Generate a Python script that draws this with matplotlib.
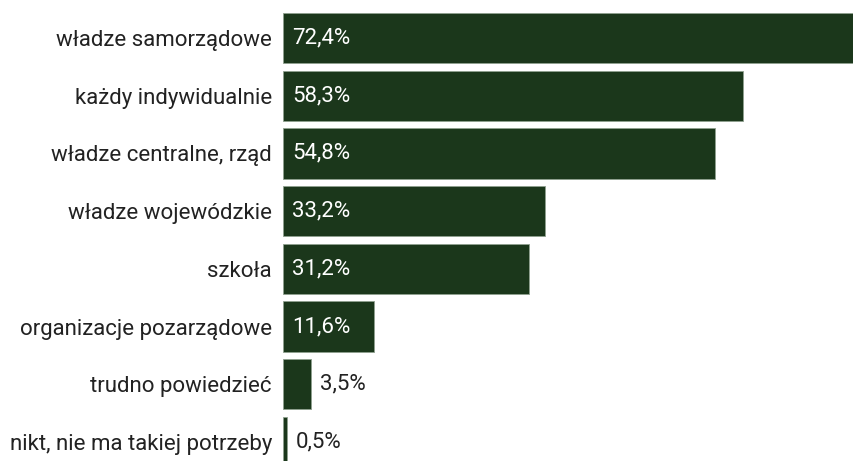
import matplotlib
matplotlib.use("Agg")
from matplotlib import pyplot as plt

categories = [
    "władze samorządowe",
    "każdy indywidualnie",
    "władze centralne, rząd",
    "władze wojewódzkie",
    "szkoła",
    "organizacje pozarządowe",
    "trudno powiedzieć",
    "nikt, nie ma takiej potrzeby",
]
values = [72.4, 58.3, 54.8, 33.2, 31.2, 11.6, 3.5, 0.5]
value_labels = ["72,4%", "58,3%", "54,8%", "33,2%", "31,2%", "11,6%", "3,5%", "0,5%"]

BAR_COLOR = "#1b371b"
TEXT_COLOR = "#222222"

plt.rcParams["font.family"] = ["Roboto", "DejaVu Sans"]

fig = plt.figure(figsize=(8.54, 4.61), dpi=100)
ax = fig.add_axes([283 / 854, 0.0, 1 - 283 / 854, 1.0])

ypos = list(range(len(categories)))
ax.barh(ypos, values, height=0.87, color=BAR_COLOR, edgecolor="#8fa08f", linewidth=0.6)

ax.set_xlim(0, 72.4)
ax.set_ylim(7.33, -0.659)
ax.set_yticks(ypos)
ax.set_yticklabels(categories, fontsize=16, color=TEXT_COLOR)
ax.tick_params(axis="y", length=0, pad=8)
ax.set_xticks([])
for side in ax.spines.values():
    side.set_visible(False)

# value labels: inside for the wide bars, outside for the narrow ones
for y, v, lab in zip(ypos, values, value_labels):
    if v > 10:
        ax.annotate(lab, (0, y), xytext=(6.5, 0), textcoords="offset points",
                    va="center", ha="left", color="white", fontsize=16)
    else:
        ax.annotate(lab, (v, y), xytext=(6.5, 0), textcoords="offset points",
                    va="center", ha="left", color=TEXT_COLOR, fontsize=16)

fig.savefig("out.png", dpi=100)
